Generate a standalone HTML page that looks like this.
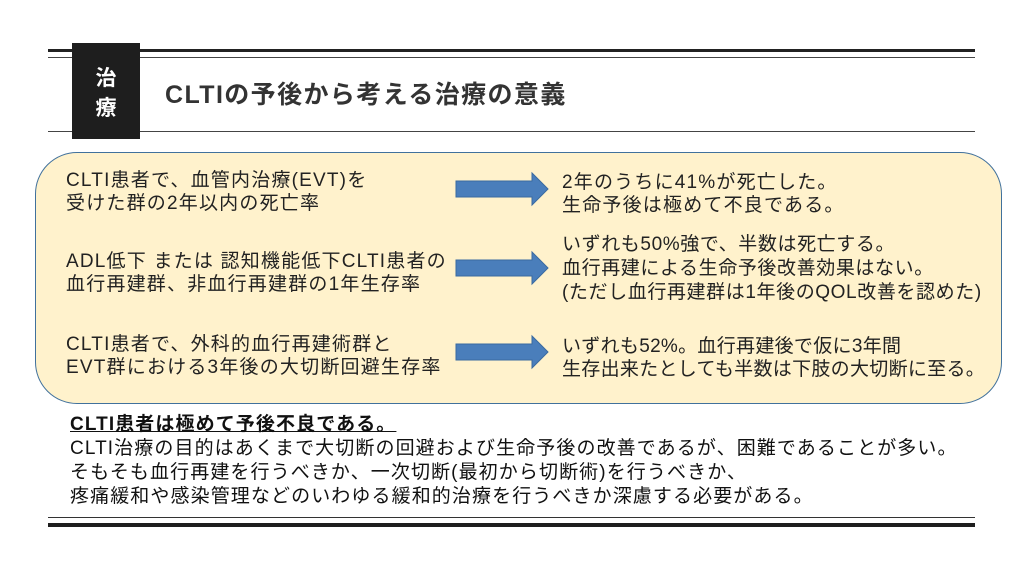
<!DOCTYPE html>
<html><head><meta charset="utf-8"><style>
body{margin:0;width:1024px;height:576px;background:#fff;position:relative;overflow:hidden;font-family:"Liberation Sans","Noto Sans CJK JP",sans-serif;color:#222}
.a{position:absolute;white-space:nowrap}
.t{font-size:19px;line-height:23px;letter-spacing:1.2px}
</style></head><body>
<div class="a" style="left:48px;top:49px;width:927px;height:3px;background:#222"></div>
<div class="a" style="left:48px;top:57px;width:927px;height:1px;background:#444"></div>
<div class="a" style="left:48px;top:131px;width:927px;height:1px;background:#444"></div>
<div class="a" style="left:72px;top:43px;width:68px;height:96px;background:#1e1e1e"></div>
<div class="a" style="left:72px;top:64px;width:68px;text-align:center;color:#fff;font-weight:bold;font-size:21px;line-height:30px">治<br>療</div>
<div class="a" style="left:165px;top:79px;font-size:25px;font-weight:bold;color:#333;line-height:32px;letter-spacing:1.4px">CLTIの予後から考える治療の意義</div>
<div class="a" style="left:35px;top:152px;width:965px;height:250px;background:#fff2cc;border:1.5px solid #41719c;border-radius:42px"></div>
<svg class="a" style="left:0;top:0" width="1024" height="576">
<g fill="#4a7ebb" stroke="#3a6aa0" stroke-width="1">
<polygon points="456,181 532,181 532,173 548,189 532,205 532,197 456,197"/>
<polygon points="456,260 532,260 532,252 548,268 532,284 532,276 456,276"/>
<polygon points="456,344 532,344 532,336 548,352 532,368 532,360 456,360"/>
</g></svg>
<div class="a t" style="left:66px;top:169px">CLTI患者で、血管内治療(EVT)を<br>受けた群の2年以内の死亡率</div>
<div class="a t" style="left:66px;top:250px">ADL低下 または 認知機能低下CLTI患者の<br>血行再建群、非血行再建群の1年生存率</div>
<div class="a t" style="left:66px;top:333px">CLTI患者で、外科的血行再建術群と<br>EVT群における3年後の大切断回避生存率</div>
<div class="a t" style="left:562px;top:171px">2年のうちに41%が死亡した。<br>生命予後は極めて不良である。</div>
<div class="a t" style="left:562px;top:233px;line-height:24px;letter-spacing:0.6px">いずれも50%強で、半数は死亡する。<br>血行再建による生命予後改善効果はない。<br>(ただし血行再建群は1年後のQOL改善を認めた)</div>
<div class="a t" style="left:562px;top:335px;letter-spacing:0.3px">いずれも52%。血行再建後で仮に3年間<br>生存出来たとしても半数は下肢の大切断に至る。</div>
<div class="a" style="left:70px;top:413px;font-size:19px;line-height:24px;color:#111;letter-spacing:1.1px"><b><u>CLTI患者は極めて予後不良である。</u></b><br>CLTI治療の目的はあくまで大切断の回避および生命予後の改善であるが、困難であることが多い。<br>そもそも血行再建を行うべきか、一次切断(最初から切断術)を行うべきか、<br>疼痛緩和や感染管理などのいわゆる緩和的治療を行うべきか深慮する必要がある。</div>
<div class="a" style="left:48px;top:517px;width:927px;height:1px;background:#333"></div>
<div class="a" style="left:48px;top:523px;width:927px;height:4px;background:#1e1e1e"></div>
</body></html>
